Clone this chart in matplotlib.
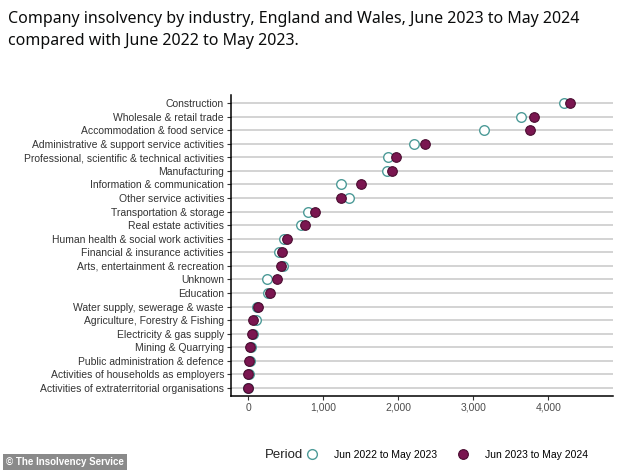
import matplotlib
matplotlib.use("Agg")
import matplotlib.pyplot as plt
from matplotlib.lines import Line2D

industries = [
    'Construction', 'Wholesale & retail trade', 'Accommodation & food service',
    'Administrative & support service activities',
    'Professional, scientific & technical activities', 'Manufacturing',
    'Information & communication', 'Other service activities',
    'Transportation & storage', 'Real estate activities',
    'Human health & social work activities', 'Financial & insurance activities',
    'Arts, entertainment & recreation', 'Unknown', 'Education',
    'Water supply, sewerage & waste', 'Agriculture, Forestry & Fishing',
    'Electricity & gas supply', 'Mining & Quarrying',
    'Public administration & defence', 'Activities of households as employers',
    'Activities of extraterritorial organisations',
]
prev_year = [4204, 3640, 3138, 2213, 1862, 1849, 1244, 1338, 804, 707,
             480, 409, 471, 249, 271, 120, 107, 71, 36, 22, 8, 2]
this_year = [4284, 3809, 3751, 2360, 1969, 1916, 1502, 1244, 893, 760,
             516, 449, 436, 382, 293, 129, 71, 49, 27, 18, 5, 1]
xticks = [0, 1000, 2000, 3000, 4000]
xticklabels = ['0', '1,000', '2,000', '3,000', '4,000']

teal = '#4d9b98'
plum = '#7a1650'

plt.rcParams['font.family'] = ['Liberation Sans', 'DejaVu Sans']

fig = plt.figure(figsize=(6.34, 4.73), dpi=100)
ax = fig.add_axes([0.3644, 0.1628, 0.6025, 0.6364])

rows = list(range(len(industries)))
for r in rows:
    ax.axhline(r, color='#c8c8c8', lw=1.1, zorder=0)

ax.scatter(prev_year, rows, s=48, facecolors='white', edgecolors=teal,
           linewidths=1.0, zorder=2)
ax.scatter(this_year, rows, s=48, facecolors=plum, edgecolors='#4a0c30',
           linewidths=0.8, zorder=3)

ax.set_yticks(rows)
ax.set_yticklabels(industries, fontsize=7.5, color='#333333')
ax.set_xticks(xticks)
ax.set_xticklabels(xticklabels, fontsize=7.5, color='#4d4d4d')
ax.set_xlim(-227, 4860)
ax.set_ylim(len(industries) - 0.4, -0.6)
ax.tick_params(length=3, width=0.8, color='#333333', pad=2)
for side in ['top', 'right']:
    ax.spines[side].set_visible(False)
for side in ['left', 'bottom']:
    ax.spines[side].set_linewidth(1.1)

fig.text(0.012, 0.977,
         'Company insolvency by industry, England and Wales, June 2023 to May 2024\n'
         'compared with June 2022 to May 2023.',
         fontsize=11.5, color='#0b0c0c', va='top', ha='left',
         family=['Noto Sans', 'DejaVu Sans'], linespacing=1.5)

fig.text(0.418, 0.038, 'Period', fontsize=9.5, color='#222222', va='center')
handles = [
    Line2D([], [], marker='o', ls='', markersize=7, markerfacecolor='white',
           markeredgecolor=teal, markeredgewidth=1.0),
    Line2D([], [], marker='o', ls='', markersize=7, markerfacecolor=plum,
           markeredgecolor='#4a0c30', markeredgewidth=0.8),
]
fig.legend(handles, ['Jun 2022 to May 2023', 'Jun 2023 to May 2024'],
           loc='center left', bbox_to_anchor=(0.484, 0.038), ncol=2,
           frameon=False, fontsize=7.5, handletextpad=1.6, columnspacing=2.0,
           handlelength=1.0, borderpad=0, borderaxespad=0)

fig.text(0.01, 0.012, '\u00a9 The Insolvency Service', fontsize=7,
         color='white', weight='bold', va='bottom', ha='left',
         bbox=dict(boxstyle='square,pad=0.3', facecolor='#8a8a8a',
                   edgecolor='none'))

fig.savefig('out.png', dpi=100)
